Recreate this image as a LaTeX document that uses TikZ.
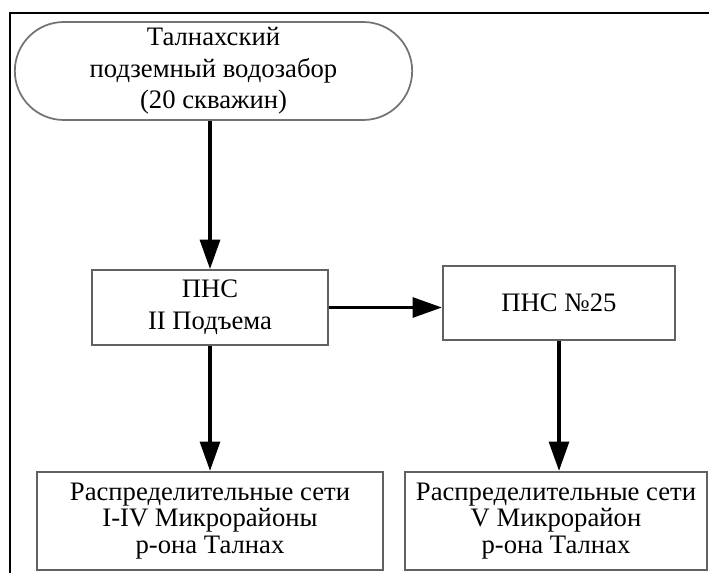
\documentclass[tikz,border=0pt]{standalone}
\usepackage{fontspec}
\setmainfont{Liberation Serif}
\usetikzlibrary{arrows.meta,shapes.misc}

\begin{document}
\begin{tikzpicture}[x=0.75pt,y=-0.75pt,
  boxline/.style={draw=black!62, line width=1.7pt, fill=white, inner sep=0pt, align=center},
  stepbox/.style={boxline, rectangle},
  termbox/.style={boxline, rounded rectangle, draw=black!55, line width=1.3pt},
  flow/.style={draw=black, line width=2.3pt, -{Triangle[width=15pt,length=22pt]}},
  txt/.style={font=\fontsize{20}{#1}\selectfont}]

  \useasboundingbox (0,0) rectangle (709,573);
  \fill[white] (0,0) rectangle (709,573);
  \clip (0,0) rectangle (709,573);

  % frame around the scheme
  \draw[black, line width=1.4pt] (10,590) -- (10,13) -- (730,13);

  % source: underground water intake
  \node[termbox, txt=23.5pt, minimum width=298pt, minimum height=73.5pt]
    (src) at (213.5,71) {Талнахский\\подземный водозабор\\(20 скважин)};

  % pumping stations
  \node[stepbox, txt=24pt, minimum width=177pt, minimum height=56pt]
    (pns) at (210,307.5) {ПНС\\II Подъема};
  \node[stepbox, txt=24pt, minimum width=174pt, minimum height=55.5pt]
    (pns25) at (559,303) {ПНС №25};

  % distribution networks
  \node[stepbox, txt=20pt, minimum width=259.5pt, minimum height=73.5pt]
    (net1) at (210,521) {Распределительные сети\\I-IV Микрорайоны\\р-она Талнах};
  \node[stepbox, txt=20pt, minimum width=226.5pt, minimum height=73.5pt]
    (net2) at (556,521) {Распределительные сети\\V Микрорайон\\р-она Талнах};

  % connectors
  \draw[flow] (pns.north |- src.south) -- (pns.north);
  \draw[flow] (pns.east) -- (pns.east -| pns25.west);
  \draw[flow] (pns.south) -- (net1.north);
  \draw[flow] (pns25.south) -- (pns25.south |- net2.north);
\end{tikzpicture}
\end{document}
